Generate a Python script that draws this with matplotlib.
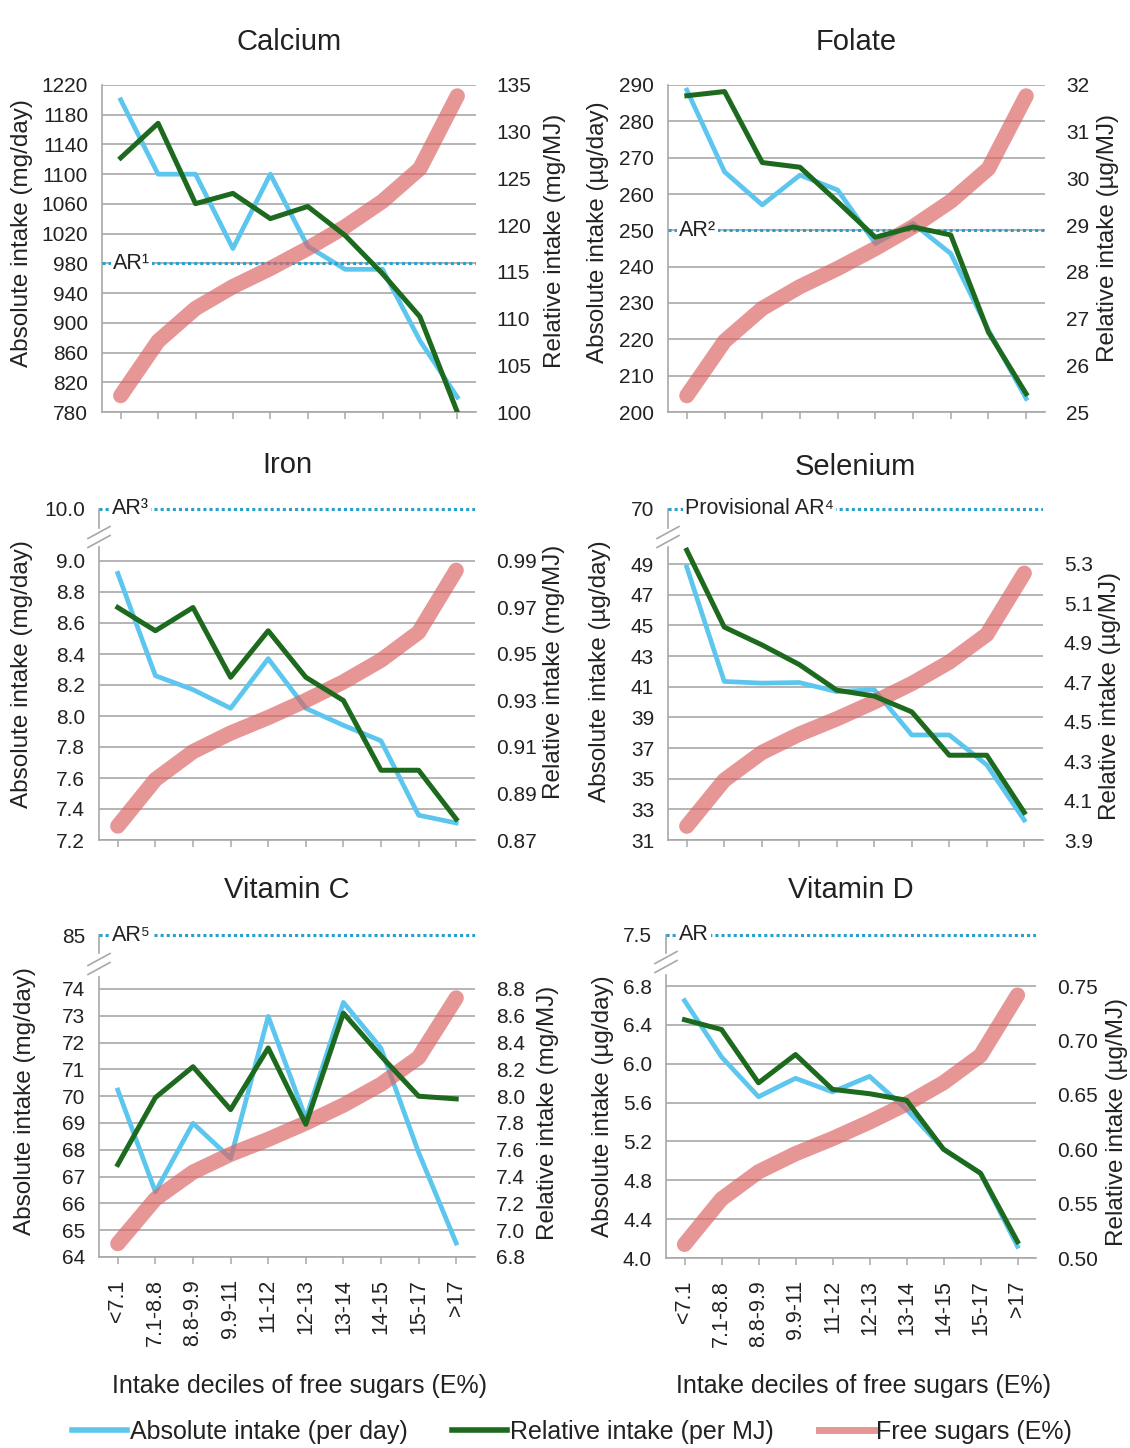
import matplotlib
matplotlib.use("Agg")
import matplotlib.pyplot as plt
import numpy as np
from matplotlib.lines import Line2D

plt.rcParams['font.family'] = ['Liberation Sans', 'DejaVu Sans']

# Data
categories = ['<7.1', '7.1-8.8', '8.8-9.9', '9.9-11', '11-12', '12-13', '13-14', '14-15', '15-17', '>17']
free_sugars = [4.9, 7.9, 9.7, 10.9, 11.9, 13.0, 14.2, 15.6, 17.4, 21.4]

calcium_abs = [1200, 1100, 1100, 1000, 1100, 1003, 972, 972, 876, 800]
calcium_rel = [127.2, 130.9, 122.3, 123.4, 120.7, 122.0, 118.9, 114.8, 110.2, 100.0]
folate_abs = [288.6, 266.1, 257.0, 265.2, 261.1, 246.4, 251.9, 243.6, 222.5, 203.7]
folate_rel = [31.77, 31.86, 30.34, 30.24, 29.5, 28.74, 28.96, 28.79, 26.71, 25.39]
iron_abs = [8.92, 8.26, 8.17, 8.05, 8.37, 8.05, 7.94, 7.84, 7.36, 7.31]
iron_rel = [0.970, 0.960, 0.970, 0.940, 0.960, 0.940, 0.930, 0.900, 0.900, 0.879]
selenium_abs = [48.8, 41.34, 41.23, 41.27, 40.68, 40.8, 37.85, 37.85, 35.9, 32.3]
selenium_rel = [5.37, 4.98, 4.89, 4.79, 4.66, 4.63, 4.55, 4.33, 4.33, 4.04]
vitc_abs = [70.23, 66.43, 68.99, 67.68, 72.98, 69.17, 73.5, 71.79, 67.9, 64.52]
vitc_rel = [7.49, 7.99, 8.22, 7.90, 8.36, 7.79, 8.62, 8.30, 8.00, 7.98]
vitd_abs = [6.65, 6.07, 5.66, 5.85, 5.71, 5.87, 5.53, 5.12, 4.87, 4.12]
vitd_rel = [0.719, 0.710, 0.661, 0.687, 0.655, 0.651, 0.645, 0.600, 0.578, 0.515]

ar_values = {'Calcium': 980, 'Folate': 250, 'Iron': 10.0, 'Selenium': 70, 'Vitamin C': 85, 'Vitamin D': 7.5}
ar_labels = {'Calcium': 'AR¹', 'Folate': 'AR²', 'Iron': 'AR³', 'Selenium': 'Provisional AR⁴',
             'Vitamin C': 'AR⁵', 'Vitamin D': 'AR'}

calcium_lticks = list(range(780, 1221, 40))
calcium_rticks = list(range(100, 136, 5))
folate_lticks = list(range(200, 291, 10))
folate_rticks = list(range(25, 33))
iron_lticks = [7.2, 7.4, 7.6, 7.8, 8.0, 8.2, 8.4, 8.6, 8.8, 9.0]
iron_rticks = [0.87, 0.89, 0.91, 0.93, 0.95, 0.97, 0.99]
selenium_lticks = [31, 33, 35, 37, 39, 41, 43, 45, 47, 49]
selenium_rticks = [3.9, 4.1, 4.3, 4.5, 4.7, 4.9, 5.1, 5.3]
vitc_lticks = list(range(64, 75))
vitc_rticks = [6.8, 7.0, 7.2, 7.4, 7.6, 7.8, 8.0, 8.2, 8.4, 8.6, 8.8]
vitd_lticks = [4.0, 4.4, 4.8, 5.2, 5.6, 6.0, 6.4, 6.8]
vitd_rticks = [0.50, 0.55, 0.60, 0.65, 0.70, 0.75]

fs_range = (4, 22)

# Layout (pixels)
W, H = 1130, 1448
BLUE = '#5CC6EE'
GREEN = '#1D6A1F'
PINK = '#DD6464'
GRID = '#A8A8A8'
TEXT = '#222222'
AR_COL = '#2A9FCB'


def rect(l, t, r, b):
    return [l / W, 1 - b / H, (r - l) / W, (b - t) / H]


panels = [
    dict(name='Calcium', a=calcium_abs, r=calcium_rel, lt=calcium_lticks, rt=calcium_rticks,
         lf='{:.0f}', rf='{:.0f}', af='{:.0f}', ua='mg/day', ur='mg/MJ',
         box=(102, 85, 476, 412), ttop=85, top=None, brk=None, title_y=42, arx=0.03,
         ylab=(22, 233), rlab=(555, 241), xticks=False),
    dict(name='Folate', a=folate_abs, r=folate_rel, lt=folate_lticks, rt=folate_rticks,
         lf='{:.0f}', rf='{:.0f}', af='{:.0f}', ua='µg/day', ur='µg/MJ',
         box=(668, 85, 1045, 412), ttop=85, top=None, brk=None, title_y=42, arx=0.03,
         ylab=(598, 232), rlab=(1108, 238), xticks=False),
    dict(name='Iron', a=iron_abs, r=iron_rel, lt=iron_lticks, rt=iron_rticks,
         lf='{:.1f}', rf='{:.2f}', af='{:.1f}', ua='mg/day', ur='mg/MJ',
         box=(99, 547, 475, 840), ttop=561, top=(505, 528, 509), brk=(99, 537), title_y=465, arx=0.035,
         ylab=(22, 674), rlab=(554, 672), xticks=False),
    dict(name='Selenium', a=selenium_abs, r=selenium_rel, lt=selenium_lticks, rt=selenium_rticks,
         lf='{:.0f}', rf='{:.1f}', af='{:.0f}', ua='µg/day', ur='µg/MJ',
         box=(668, 547, 1043, 840), ttop=564, top=(505, 528, 509), brk=(668, 537), title_y=467, arx=0.045,
         ylab=(600, 671), rlab=(1110, 696), xticks=False),
    dict(name='Vitamin C', a=vitc_abs, r=vitc_rel, lt=vitc_lticks, rt=vitc_rticks,
         lf='{:.0f}', rf='{:.1f}', af='{:.0f}', ua='mg/day', ur='mg/MJ',
         box=(99, 977, 475, 1257), ttop=989, top=(931, 953, 935), brk=(99, 964), title_y=890, arx=0.035,
         ylab=(25, 1101), rlab=(548, 1113), xticks=True, xlab=299),
    dict(name='Vitamin D', a=vitd_abs, r=vitd_rel, lt=vitd_lticks, rt=vitd_rticks,
         lf='{:.1f}', rf='{:.2f}', af='{:.1f}', ua='µg/day', ur='µg/MJ',
         box=(666, 975, 1036, 1258), ttop=986, top=(931, 953, 935), brk=(666, 962), title_y=890, arx=0.035,
         ylab=(603, 1106), rlab=(1117, 1122), xticks=True, xlab=864),
]

fig = plt.figure(figsize=(W / 100, H / 100), dpi=100)
x = np.arange(len(categories))


def ext_lim(lo, hi, p):
    # extend the upper limit so the axes top sits above the top tick
    l, t, r, b = p['box']
    extra = (p['ttop'] - t) / (b - p['ttop']) * (hi - lo)
    return lo, hi + extra


for p in panels:
    l, t, r, b = p['box']
    ax = fig.add_axes(rect(l, t, r, b))
    ax.plot(x, p['a'], color=BLUE, lw=3.4, zorder=3)
    ax.set_xlim(-0.5, len(categories) - 0.5)
    ax.set_ylim(*ext_lim(p['lt'][0], p['lt'][-1], p))
    ax.set_yticks(p['lt'])
    ax.set_yticklabels([p['lf'].format(v) for v in p['lt']])
    ax.yaxis.grid(True, color=GRID, lw=1.2)
    ax.set_axisbelow(True)
    for s in ('top', 'right'):
        ax.spines[s].set_visible(False)
    for s in ('left', 'bottom'):
        ax.spines[s].set_color(GRID)
        ax.spines[s].set_linewidth(1.2)
    ax.tick_params(axis='y', length=0, pad=10, labelsize=15, labelcolor=TEXT)
    ax.tick_params(axis='x', length=5, width=1.1, color=GRID, direction='out',
                   labelsize=15.5, labelcolor=TEXT, pad=11)
    ax.set_xticks(x)
    if p['xticks']:
        ax.set_xticklabels(categories, rotation=90, va='top', ha='center')
        fig.text(p['xlab'] / W, 1 - 1386 / H, 'Intake deciles of free sugars (E%)',
                 ha='center', va='center', fontsize=18, color=TEXT)
    else:
        ax.set_xticklabels([])

    # AR line
    ar = ar_values[p['name']]
    if p['top'] is None:
        ar_ax = ax
    else:
        tt, tb, ary = p['top']
        ar_ax = fig.add_axes(rect(l, tt, r, tb))
        f = (tb - ary) / (tb - tt)
        ar_ax.set_ylim(ar - f, ar + (1 - f))
        ar_ax.set_xlim(-0.5, len(categories) - 0.5)
        ar_ax.set_xticks([])
        ar_ax.set_yticks([ar])
        ar_ax.set_yticklabels([p['af'].format(ar)])
        ar_ax.tick_params(axis='y', length=0, pad=10, labelsize=15, labelcolor=TEXT)
        ar_ax.patch.set_visible(False)
        for s in ('top', 'right', 'bottom'):
            ar_ax.spines[s].set_visible(False)
        ar_ax.spines['left'].set_color(GRID)
        ar_ax.spines['left'].set_linewidth(1.2)
        ar_ax.spines['left'].set_bounds(ar - f, ar)
        bx, by = p['brk']
        for dy in (-4.5, 4.5):
            fig.add_artist(Line2D([(bx - 11) / W, (bx + 11) / W],
                                  [1 - (by + dy + 6) / H, 1 - (by + dy - 6) / H],
                                  color=GRID, lw=1.2))
    ar_ax.axhline(ar, color=AR_COL, lw=2.2, linestyle=(0, (1, 1)), zorder=4)
    ar_ax.text(p['arx'], ar, ar_labels[p['name']], transform=ar_ax.get_yaxis_transform(),
               ha='left', va='center', fontsize=15.5, color=TEXT, zorder=5,
               bbox=dict(boxstyle='square,pad=0.1', fc='white', ec='none'))

    # free sugars (hidden axis), drawn over the absolute line
    axp = ax.twinx()
    axp.plot(x, free_sugars, color=PINK, lw=11, alpha=0.68, solid_capstyle='round',
             solid_joinstyle='round')
    axp.set_ylim(*ext_lim(fs_range[0], fs_range[1], p))
    axp.axis('off')

    # relative intake
    ax2 = ax.twinx()
    ax2.plot(x, p['r'], color=GREEN, lw=3.6)
    ax2.set_ylim(*ext_lim(p['rt'][0], p['rt'][-1], p))
    ax2.set_yticks(p['rt'])
    ax2.set_yticklabels([p['rf'].format(v) for v in p['rt']])
    ax2.tick_params(axis='y', length=0, pad=15, labelsize=15, labelcolor=TEXT)
    for s in ax2.spines.values():
        s.set_visible(False)

    # titles and axis labels
    fig.text((l + r) / 2 / W, 1 - p['title_y'] / H, p['name'], ha='center', va='center',
             fontsize=21, color=TEXT)
    fig.text(p['ylab'][0] / W, 1 - p['ylab'][1] / H, 'Absolute intake (%s)' % p['ua'],
             rotation=90, ha='center', va='center', fontsize=17.5, color=TEXT)
    fig.text(p['rlab'][0] / W, 1 - p['rlab'][1] / H, 'Relative intake (%s)' % p['ur'],
             rotation=90, ha='center', va='center', fontsize=17.5, color=TEXT)

handles = [Line2D([], [], color=BLUE, lw=4),
           Line2D([], [], color=GREEN, lw=4),
           Line2D([], [], color=PINK, lw=5, alpha=0.68)]
fig.legend(handles, ['Absolute intake (per day)', 'Relative intake (per MJ)', 'Free sugars (E%)'],
           loc='center', bbox_to_anchor=(572 / W, 1 - 1432 / H), ncol=3, frameon=False,
           fontsize=18, handlelength=2.2, handletextpad=0.1, columnspacing=1.8,
           labelcolor=TEXT)

fig.savefig('out.png', dpi=100, facecolor='white')
